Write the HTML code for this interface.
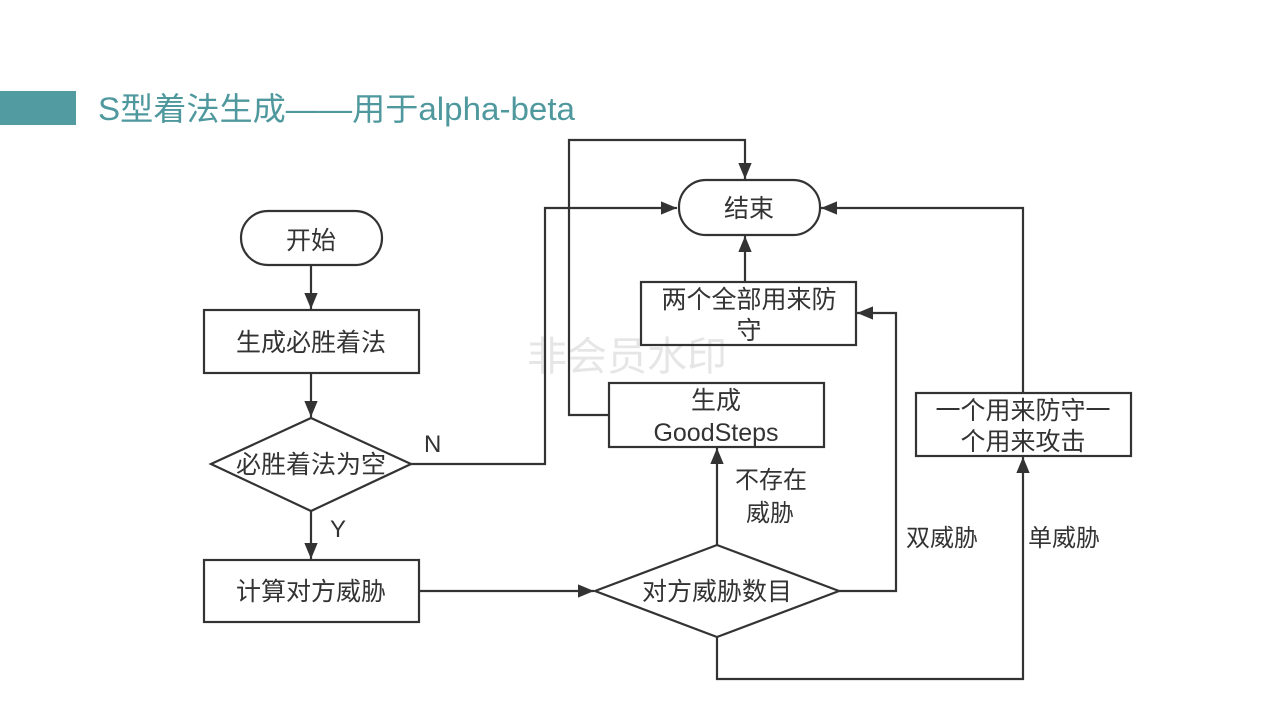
<!DOCTYPE html>
<html><head><meta charset="utf-8"><style>
html,body{margin:0;padding:0;background:#fff;}
svg{display:block;}
text{font-family:"Liberation Sans","Noto Sans CJK SC",sans-serif;fill:#333;}
</style></head><body>
<svg width="1280" height="720" viewBox="0 0 1280 720" xmlns="http://www.w3.org/2000/svg">
<defs>
<marker id="b" viewBox="0 0 12 12" markerWidth="16" markerHeight="16" refX="12" refY="6" orient="auto" markerUnits="userSpaceOnUse">
<path d="M0,1 L12,6 L0,11 Z" fill="#333"/>
</marker>
</defs>
<rect x="0" y="91" width="76" height="34" fill="#529ba0"/>
<text x="98" y="120" font-size="32" style="fill:#4f999e" textLength="477" lengthAdjust="spacingAndGlyphs">S型着法生成——用于alpha-beta</text>
<text x="527" y="370" font-size="40" style="fill:#e6e6e6">非会员水印</text>
<g fill="none" stroke="#333" stroke-width="2.2">
<rect x="241" y="211" width="141" height="54" rx="27"/>
<rect x="204" y="310" width="215" height="63"/>
<polygon points="211,464 311,418 411,464 311,511"/>
<rect x="204" y="560" width="215" height="62"/>
<polygon points="595,591 717,545 839,591 717,637"/>
<rect x="609" y="383" width="215" height="64"/>
<rect x="679" y="180" width="141" height="55" rx="27"/>
<rect x="641" y="282" width="215" height="63"/>
<rect x="916" y="393" width="215" height="63"/>
<g marker-end="url(#b)">
<path d="M311,265 V309"/>
<path d="M311,373 V417"/>
<path d="M411,464 H545 V208 H677"/>
<path d="M311,511 V559"/>
<path d="M419,591 H594"/>
<path d="M717,545 V448"/>
<path d="M609,415 H569 V140 H745 V179"/>
<path d="M745,282 V236"/>
<path d="M839,591 H896 V313 H857"/>
<path d="M717,637 V679 H1023 V457"/>
<path d="M1023,393 V208 H821"/>
</g>
</g>
<g font-size="25" text-anchor="middle">
<text x="311" y="249">开始</text>
<text x="311" y="351">生成必胜着法</text>
<text x="311" y="473">必胜着法为空</text>
<text x="311" y="600">计算对方威胁</text>
<text x="717" y="600">对方威胁数目</text>
<text x="716" y="409">生成</text>
<text x="716" y="441">GoodSteps</text>
<text x="749" y="217">结束</text>
<text x="749" y="308">两个全部用来防</text>
<text x="749" y="339">守</text>
<text x="1023" y="419">一个用来防守一</text>
<text x="1023" y="450">个用来攻击</text>
</g>
<g font-size="24">
<text x="424" y="452">N</text>
<text x="330" y="537">Y</text>
<text x="735" y="488">不存在</text>
<text x="746" y="521">威胁</text>
<text x="906" y="546">双威胁</text>
<text x="1028" y="546">单威胁</text>
</g>
</svg>
</body></html>
